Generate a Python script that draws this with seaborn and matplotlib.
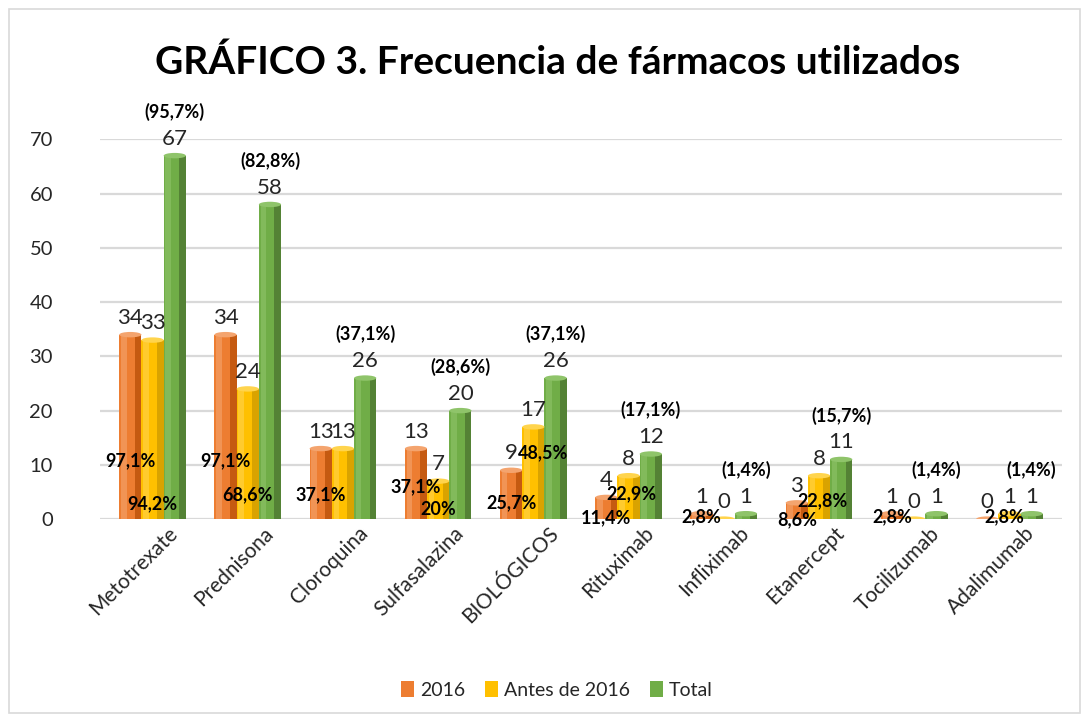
import numpy as np
import pandas as pd
import matplotlib
matplotlib.use("Agg")
import matplotlib.pyplot as plt
import matplotlib.transforms as mtransforms
from matplotlib.patches import Rectangle, Ellipse
import seaborn as sns

farmacos = ["Metotrexate", "Prednisona", "Cloroquina", "Sulfasalazina", "BIOLÓGICOS",
            "Rituximab", "Infliximab", "Etanercept", "Tocilizumab", "Adalimumab"]
series = ["2016", "Antes de 2016", "Total"]
n_2016 = [34, 34, 13, 13, 9, 4, 1, 3, 1, 0]
n_antes = [33, 24, 13, 7, 17, 8, 0, 8, 0, 1]
n_total = [67, 58, 26, 20, 26, 12, 1, 11, 1, 1]
pct_2016 = ["97,1%", "97,1%", "37,1%", "37,1%", "25,7%", "11,4%", "2,8%", "8,6%", "2,8%", ""]
pct_antes = ["94,2%", "68,6%", "", "20%", "48,5%", "22,9%", "", "22,8%", "", "2,8%"]
pct_total = ["(95,7%)", "(82,8%)", "(37,1%)", "(28,6%)", "(37,1%)", "(17,1%)",
             "(1,4%)", "(15,7%)", "(1,4%)", "(1,4%)"]

# where the inner percentage labels sit (vertical centre, in axis units)
pct_y_2016 = [10.7, 10.7, 4.4, 5.9, 3.0, 0.2, 0.5, -0.2, 0.5, 0.0]
pct_y_antes = [2.9, 4.4, 0.0, 1.7, 12.3, 4.6, 0.0, 3.3, 0.0, 0.5]
# small sideways nudges (in category units) for the "Antes" labels
pct_dx_antes = [0, 0, 0, 0, 0.1, 0.03, 0, 0.04, 0, -0.05]

colors = {"2016": "#ED7D31", "Antes de 2016": "#FFC000", "Total": "#70AD47"}
dark = {"2016": "#C55A11", "Antes de 2016": "#D9A300", "Total": "#548235"}
light = {"2016": "#F4A46E", "Antes de 2016": "#FFD44D", "Total": "#8FC46A"}

df = pd.DataFrame({
    "farmaco": farmacos * 3,
    "serie": [s for s in series for _ in farmacos],
    "n": n_2016 + n_antes + n_total,
})

sns.set_theme(style="white")
plt.rcParams["font.family"] = ["Lato", "DejaVu Sans"]
txt = "#262626"

fig = plt.figure(figsize=(10.89, 7.22), dpi=100)
ax = fig.add_axes([0.092, 0.281, 0.883, 0.526])

sns.barplot(data=df, x="farmaco", y="n", hue="serie", palette=colors,
            width=0.7, saturation=1, ax=ax, zorder=3, linewidth=0)

ax.set_ylim(0, 70)
ax.set_xlim(-0.55, 9.55)
ax.set_yticks(range(0, 71, 10))
ax.yaxis.grid(True, color="#D9D9D9", linewidth=1.6, zorder=0)
ax.xaxis.grid(False)
for s in ax.spines.values():
    s.set_visible(False)
ax.set_xlabel("")
ax.set_ylabel("")
ax.tick_params(axis="y", labelsize=14.5, labelcolor=txt, pad=34, length=0)
ax.tick_params(axis="x", labelsize=15, labelcolor=txt, pad=4, length=0)
offset = mtransforms.ScaledTranslation(16 / 72, -4 / 72, fig.dpi_scale_trans)
for lab in ax.get_xticklabels():
    lab.set_rotation(45)
    lab.set_ha("right")
    lab.set_va("center")
    lab.set_rotation_mode("anchor")
    lab.set_transform(lab.get_transform() + offset)

# cylinder-like shading on every bar
for cont, name in zip(ax.containers, series):
    for rect in cont:
        x, w, h = rect.get_x(), rect.get_width(), rect.get_height()
        ax.add_patch(Rectangle((x + 0.7 * w, 0), 0.3 * w, h, color=dark[name], lw=0, zorder=3.1))
        ax.add_patch(Rectangle((x + 0.08 * w, 0), 0.25 * w, h, color=light[name], lw=0, zorder=3.1,
                               alpha=0.6))
        ax.add_patch(Ellipse((x + w / 2, h), w, 1.0, color=light[name], lw=0, zorder=3.2))

# value labels
c16, cant, ctot = ax.containers[:3]
ax.bar_label(c16, labels=[str(v) for v in n_2016], padding=5, fontsize=16, color=txt, zorder=5)
ax.bar_label(cant, labels=[str(v) for v in n_antes], padding=5, fontsize=16, color=txt, zorder=5)
ax.bar_label(ctot, labels=[str(v) for v in n_total], padding=5, fontsize=16, color=txt, zorder=5)
ax.bar_label(ctot, labels=pct_total, padding=25, fontsize=13, fontweight="bold",
             color="black", zorder=5)

for rect, lab, y in zip(c16, pct_2016, pct_y_2016):
    if lab:
        ax.text(rect.get_x() + rect.get_width() / 2, y, lab, ha="center", va="center",
                fontsize=13, fontweight="bold", color="black", zorder=6, clip_on=False)
for rect, lab, y, dx in zip(cant, pct_antes, pct_y_antes, pct_dx_antes):
    if lab:
        ax.text(rect.get_x() + rect.get_width() / 2 + dx, y, lab, ha="center", va="center",
                fontsize=13, fontweight="bold", color="black", zorder=6, clip_on=False)

sns.move_legend(ax, "center", bbox_to_anchor=(0.475, -0.45), ncol=3, frameon=False,
                title=None, fontsize=14, handlelength=0.7, handleheight=0.9,
                handletextpad=0.3, columnspacing=1.0)

fig.text(0.512, 0.914, "GRÁFICO 3. Frecuencia de fármacos utilizados", ha="center",
         va="center", fontsize=28, fontweight="bold", color="black")

fig.patches.append(Rectangle((0.008, 0.012), 0.984, 0.976, transform=fig.transFigure,
                             fill=False, edgecolor="#D9D9D9", linewidth=1.2))

fig.savefig("out.png", dpi=100, facecolor="white")
